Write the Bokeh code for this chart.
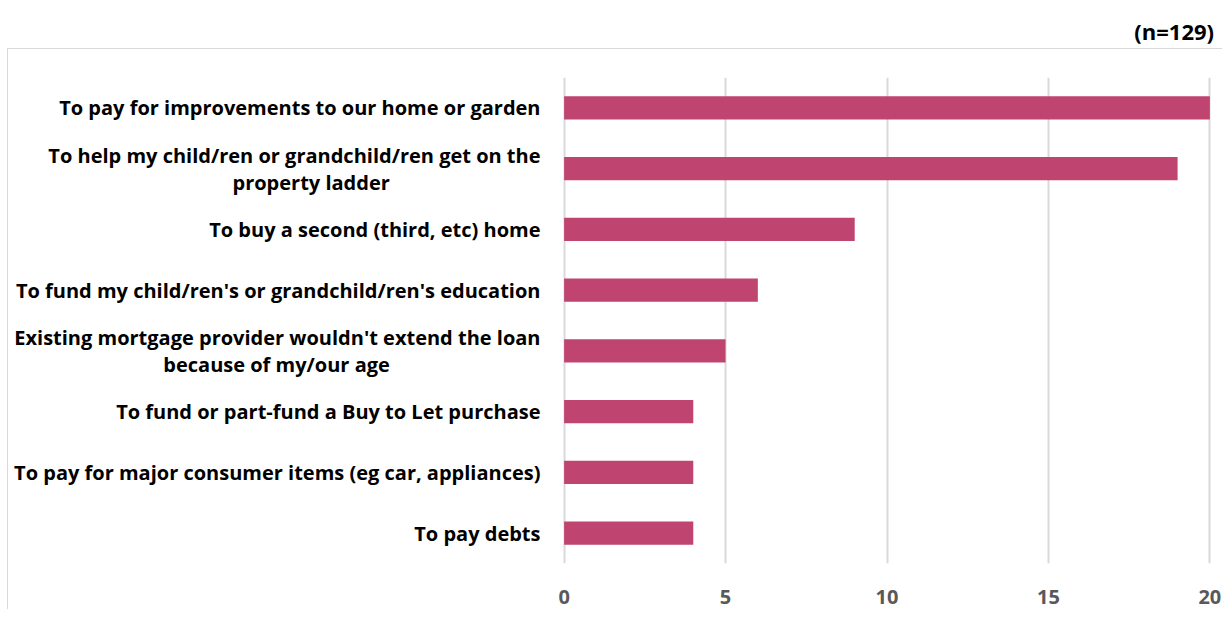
from bokeh.plotting import figure
from bokeh.models import FactorRange, Range1d, FixedTicker, Div, ColumnDataSource
from bokeh.layouts import column
from bokeh.embed import file_html
from bokeh.resources import INLINE

NB = "\u00a0"
categories = [
    "To pay for improvements to our home or garden",
    "To help my child/ren or grandchild/ren get on the\nproperty ladder" + NB * 29,
    "To buy a second (third, etc) home",
    "To fund my child/ren's or grandchild/ren's education",
    "Existing mortgage provider wouldn't extend the loan\nbecause of my/our age" + NB * 29,
    "To fund or part-fund a Buy to Let purchase",
    "To pay for major consumer items (eg car, appliances)",
    "To pay debts",
]
values = [20, 19, 9, 6, 5, 4, 4, 4]
x_ticks = [0, 5, 10, 15, 20]
note = "(n=129)"

FONT = "Open Sans"
BAR = "#BF4470"

source = ColumnDataSource(dict(cat=categories, val=values))

p = figure(
    y_range=FactorRange(*reversed(categories)),
    x_range=Range1d(-0.05, 20.05),
    width=1215, height=561,
    output_backend="svg", toolbar_location=None,
    min_border_left=554, min_border_right=12,
    min_border_top=28, min_border_bottom=47,
)
p.hbar(y="cat", right="val", left=0, height=0.38, source=source,
       fill_color=BAR, line_color=None)

p.outline_line_color = None
p.background_fill_color = "white"
p.border_fill_color = "white"

p.ygrid.grid_line_color = None
p.xgrid.ticker = FixedTicker(ticks=x_ticks)
p.xgrid.grid_line_color = "#d9d9d9"
p.xgrid.grid_line_width = 2

p.xaxis.ticker = FixedTicker(ticks=x_ticks)
p.xaxis.axis_line_color = None
p.xaxis.major_tick_line_color = None
p.xaxis.minor_tick_line_color = None
p.xaxis.major_label_text_font = FONT
p.xaxis.major_label_text_font_style = "bold"
p.xaxis.major_label_text_font_size = "20px"
p.xaxis.major_label_text_color = "#595959"
p.xaxis.major_label_standoff = 20

p.yaxis.axis_line_color = None
p.yaxis.major_tick_line_color = None
p.yaxis.minor_tick_line_color = None
p.yaxis.major_label_text_font = FONT
p.yaxis.major_label_text_font_style = "bold"
p.yaxis.major_label_text_font_size = "20px"
p.yaxis.major_label_text_color = "#000000"
p.yaxis.major_label_text_line_height = 1.0
p.yaxis.major_label_standoff = 16

p.styles = {"border-left": "1px solid #d9d9d9", "border-top": "1px solid #d9d9d9",
            "margin-left": "7px"}

div = Div(
    text=note, width=1209, height=38,
    styles={"font-family": FONT, "font-weight": "bold", "font-size": "22px",
            "text-align": "right", "padding-top": "11px",
            "color": "#000000"},
)

layout = column(div, p, spacing=0)

with open("out.html", "w") as f:
    f.write(file_html(layout, INLINE))
